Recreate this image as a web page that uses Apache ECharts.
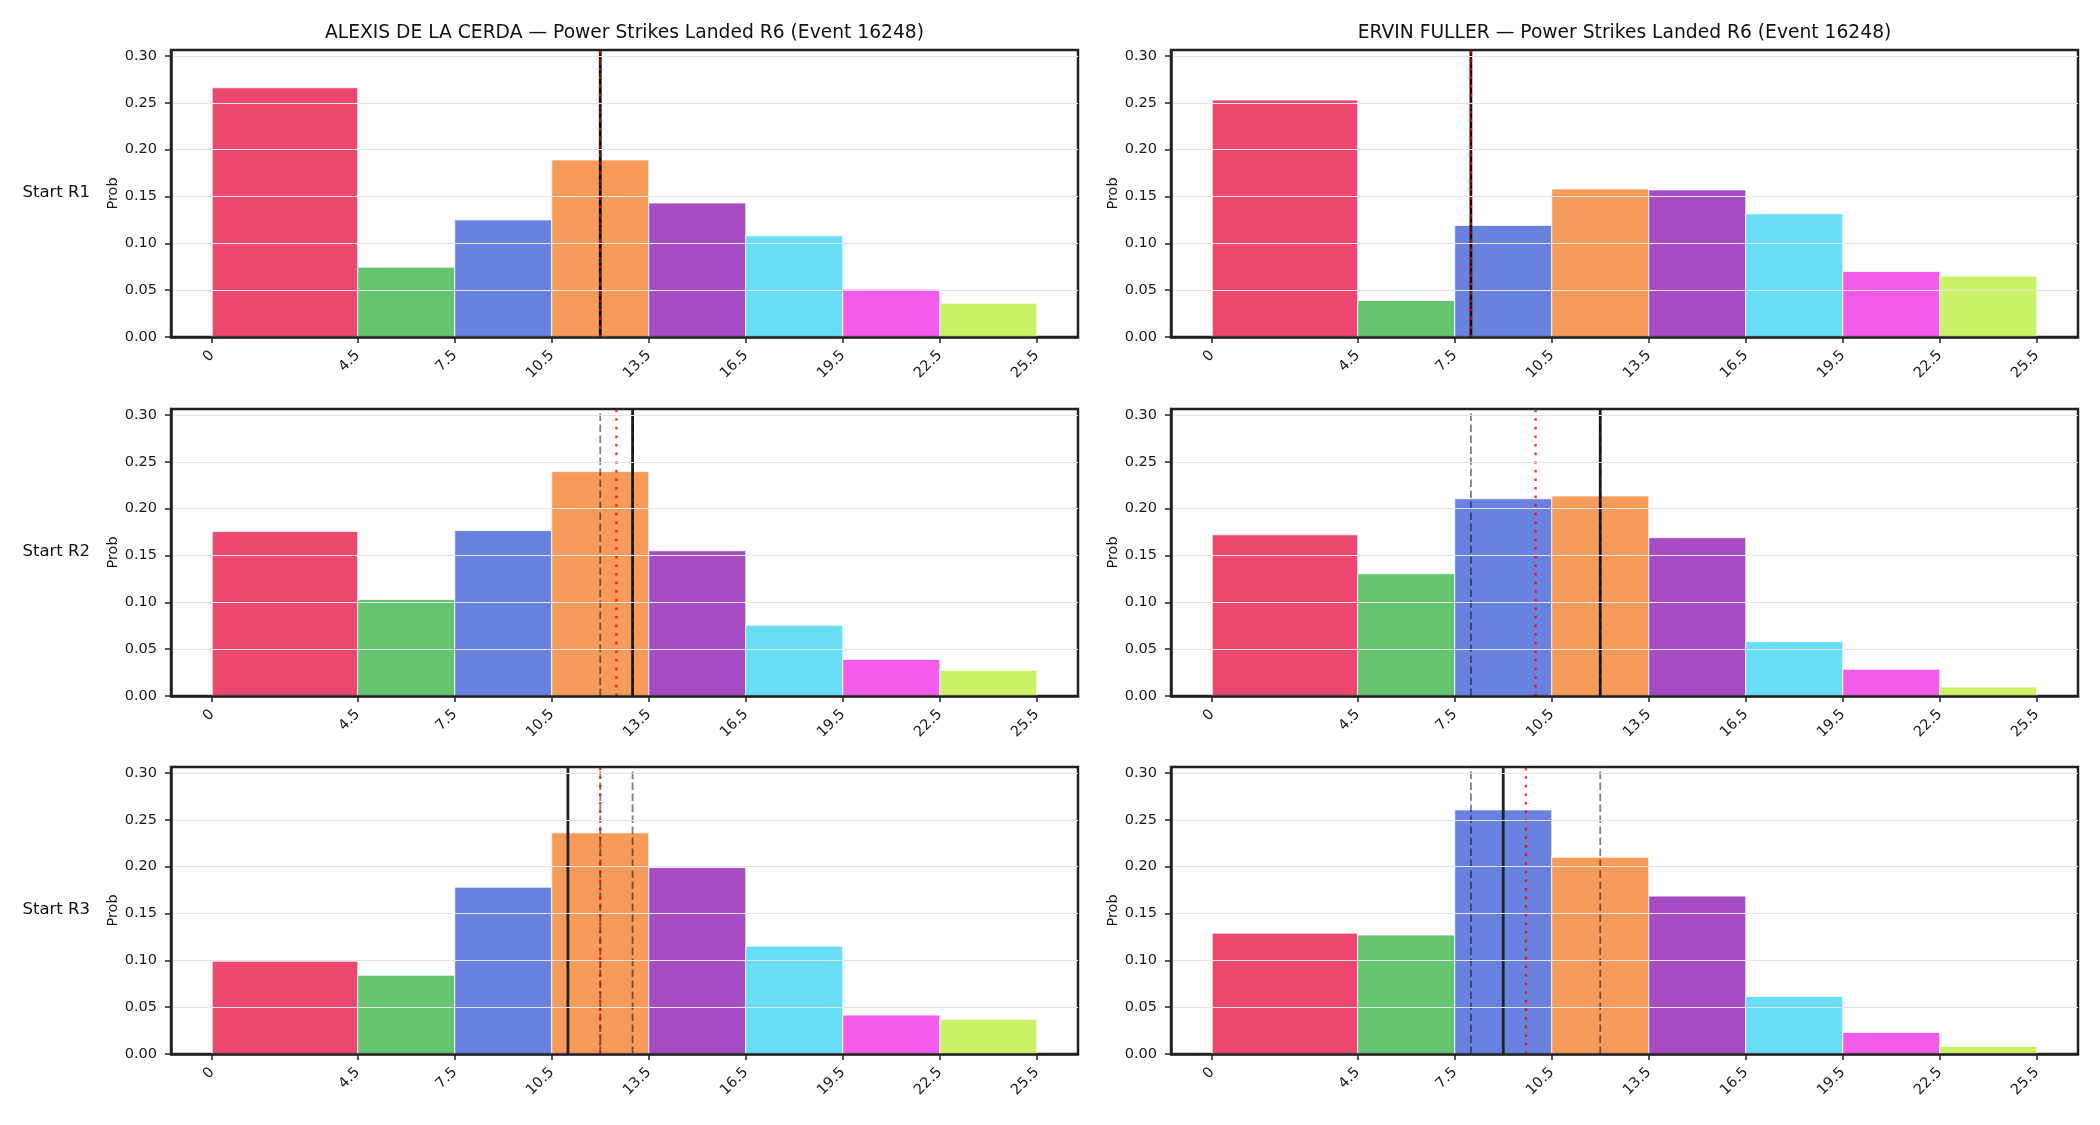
<!DOCTYPE html>
<html>
<head>
<meta charset="UTF-8">
<title>Power Strikes Landed R6 (Event 16248)</title>
<script src="https://cdn.jsdelivr.net/npm/echarts@6/dist/echarts.min.js"></script>
<style>
  html, body { margin: 0; padding: 0; background: #fff; }
  #chart { width: 2100px; height: 1125px; }
</style>
</head>
<body>
<div id="chart"></div>
<script>
// bin edges of the histogram, also used as the x tick labels
var binEdges = [0, 4.5, 7.5, 10.5, 13.5, 16.5, 19.5, 22.5, 25.5];
var yTicks = [0, 0.05, 0.10, 0.15, 0.20, 0.25, 0.30];
var fighters = ['ALEXIS DE LA CERDA', 'ERVIN FULLER'];
var rowNames = ['Start R1', 'Start R2', 'Start R3'];

// probability per bin
var probAlexisR1 = [0.266, 0.0745, 0.125, 0.189, 0.143, 0.108, 0.051, 0.036];
var probAlexisR2 = [0.1755, 0.103, 0.1765, 0.2395, 0.155, 0.0755, 0.039, 0.0275];
var probAlexisR3 = [0.099, 0.084, 0.178, 0.236, 0.199, 0.115, 0.0415, 0.037];
var probErvinR1 = [0.253, 0.039, 0.119, 0.158, 0.157, 0.1315, 0.070, 0.065];
var probErvinR2 = [0.172, 0.1305, 0.2105, 0.2135, 0.169, 0.058, 0.0285, 0.0095];
var probErvinR3 = [0.129, 0.127, 0.2605, 0.210, 0.1685, 0.0615, 0.023, 0.008];

// reference lines per start round (R1, R2, R3)
var medianAlexis = [12, 13, 11];
var meanAlexis = [12, 12.5, 12];
var lowAlexis = [12, 12, 12];
var highAlexis = [12, 13, 13];
var medianErvin = [8, 12, 9];
var meanErvin = [8, 10, 9.7];
var lowErvin = [8, 8, 8];
var highErvin = [8, 12, 12];

var barColors = ['#e6194B', '#3cb44b', '#4363d8', '#f58231', '#911eb4', '#42d4f4', '#f032e6', '#bfef45'];

var yMax = 0.3063;
var FONT = 'DejaVu Sans';

var panels = [
  { col: 0, row: 0, prob: probAlexisR1, med: medianAlexis[0], mean: meanAlexis[0], lo: lowAlexis[0], hi: highAlexis[0] },
  { col: 1, row: 0, prob: probErvinR1, med: medianErvin[0], mean: meanErvin[0], lo: lowErvin[0], hi: highErvin[0] },
  { col: 0, row: 1, prob: probAlexisR2, med: medianAlexis[1], mean: meanAlexis[1], lo: lowAlexis[1], hi: highAlexis[1] },
  { col: 1, row: 1, prob: probErvinR2, med: medianErvin[1], mean: meanErvin[1], lo: lowErvin[1], hi: highErvin[1] },
  { col: 0, row: 2, prob: probAlexisR3, med: medianAlexis[2], mean: meanAlexis[2], lo: lowAlexis[2], hi: highAlexis[2] },
  { col: 1, row: 2, prob: probErvinR3, med: medianErvin[2], mean: meanErvin[2], lo: lowErvin[2], hi: highErvin[2] }
];

var gridLeft = [171, 1171];
var gridTop = [50, 409, 767];
var gridW = 907, gridH = 287;

var grids = [], xAxes = [], yAxes = [], series = [], graphics = [];

function vline(i, x, style, z) {
  return {
    type: 'line', xAxisIndex: i, yAxisIndex: i,
    data: [[x, 0], [x, yMax]],
    symbol: 'none', silent: true, animation: false, z: z,
    lineStyle: style
  };
}

panels.forEach(function (p, i) {
  grids.push({
    left: gridLeft[p.col], top: gridTop[p.row], width: gridW, height: gridH,
    show: true, borderColor: '#222', borderWidth: 2.5, backgroundColor: '#fff'
  });
  xAxes.push({
    type: 'value', gridIndex: i, min: -1.275, max: 26.775, z: 10,
    splitLine: { show: false },
    axisLine: { show: true, onZero: false, lineStyle: { color: '#222', width: 2.5 } },
    axisTick: { show: true, customValues: binEdges, length: 6, lineStyle: { color: '#222', width: 1.5 } },
    axisLabel: {
      customValues: binEdges, rotate: 45, margin: 16,
      fontFamily: FONT, fontSize: 14.5, color: '#1a1a1a',
      formatter: function (v) { return String(v); }
    }
  });
  yAxes.push({
    type: 'value', gridIndex: i, min: 0, max: yMax, interval: 0.05, z: 10,
    name: 'Prob', nameLocation: 'middle', nameGap: 50,
    nameTextStyle: { fontFamily: FONT, fontSize: 14.5, color: '#1a1a1a' },
    splitLine: { show: true, lineStyle: { color: '#e4e4e4', width: 1.2 } },
    axisLine: { show: true, onZero: false, lineStyle: { color: '#222', width: 2.5 } },
    axisTick: { show: true, customValues: yTicks, length: 6, lineStyle: { color: '#222', width: 1.5 } },
    axisLabel: {
      customValues: yTicks, margin: 14,
      fontFamily: FONT, fontSize: 14.5, color: '#1a1a1a',
      formatter: function (v) { return v.toFixed(2); }
    }
  });

  var barData = p.prob.map(function (v, k) { return [binEdges[k], binEdges[k + 1], v]; });
  series.push({
    type: 'custom', xAxisIndex: i, yAxisIndex: i, animation: false, z: 2,
    encode: { x: [0, 1], y: 2 },
    data: barData,
    renderItem: function (params, api) {
      var a = api.coord([api.value(0), api.value(2)]);
      var b = api.coord([api.value(1), 0]);
      return {
        type: 'rect',
        shape: { x: a[0], y: a[1], width: b[0] - a[0], height: b[1] - a[1] },
        style: { fill: barColors[params.dataIndex], opacity: 0.8, stroke: '#fff', lineWidth: 1 }
      };
    }
  });

  series.push(vline(i, p.med, { color: '#222', width: 2.8, type: 'solid' }, 3));
  series.push(vline(i, p.lo, { color: 'rgba(0,0,0,0.5)', width: 1.8, type: [7.5, 3.5] }, 4));
  series.push(vline(i, p.hi, { color: 'rgba(0,0,0,0.5)', width: 1.8, type: [7.5, 3.5] }, 4));
  series.push(vline(i, p.mean, { color: 'rgba(255,0,0,0.8)', width: 2.4, type: [2.6, 6], cap: 'butt' }, 5));
});

// column titles
fighters.forEach(function (name, c) {
  graphics.push({
    type: 'text', x: gridLeft[c] + gridW / 2, y: 33,
    style: {
      text: name + ' \u2014 Power Strikes Landed R6 (Event 16248)',
      font: '18.7px "' + FONT + '"', fill: '#111',
      align: 'center', verticalAlign: 'middle'
    }
  });
});

// row labels
rowNames.forEach(function (name, r) {
  graphics.push({
    type: 'text', x: 90, y: gridTop[r] + 143,
    style: {
      text: name, font: '16.5px "' + FONT + '"', fill: '#111',
      align: 'right', verticalAlign: 'middle'
    }
  });
});

var chart = echarts.init(document.getElementById('chart'));
chart.setOption({
  backgroundColor: '#fff',
  animation: false,
  grid: grids,
  xAxis: xAxes,
  yAxis: yAxes,
  series: series,
  graphic: graphics
});
</script>
</body>
</html>
